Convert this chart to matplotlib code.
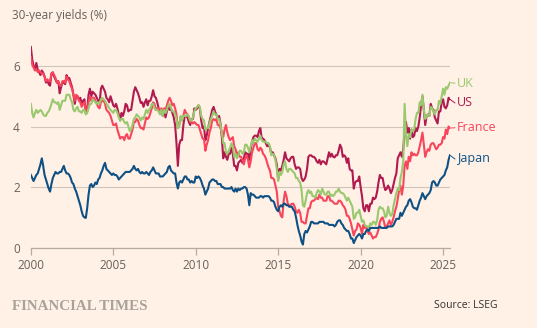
import numpy as np
import matplotlib.pyplot as plt

# monthly 30-year yields (%), Jan 2000 - Jun 2025
us = [
    6.63, 6.22, 6.00, 5.90, 6.10, 5.88, 5.80, 5.70, 5.85, 5.78, 5.65, 5.45,
    5.55, 5.40, 5.35, 5.75, 5.75, 5.65, 5.55, 5.45, 5.50, 5.10, 5.30, 5.45,
    5.45, 5.40, 5.70, 5.60, 5.60, 5.45, 5.30, 5.05, 4.75, 5.00, 5.00, 4.90,
    4.95, 4.75, 4.85, 4.90, 4.45, 4.55, 5.05, 5.25, 5.00, 5.15, 5.10, 5.05,
    4.95, 4.85, 4.75, 5.25, 5.35, 5.25, 5.15, 4.95, 4.90, 4.80, 5.00, 4.85,
    4.70, 4.65, 4.75, 4.60, 4.40, 4.20, 4.45, 4.35, 4.50, 4.75, 4.70, 4.50,
    4.55, 4.55, 4.85, 5.15, 5.30, 5.20, 5.10, 4.95, 4.78, 4.80, 4.65, 4.80,
    4.90, 4.70, 4.85, 4.85, 5.00, 5.20, 5.00, 4.95, 4.80, 4.60, 4.45, 4.55,
    4.35, 4.55, 4.30, 4.50, 4.70, 4.55, 4.60, 4.45, 4.30, 4.05, 3.45, 2.70,
    3.40, 3.55, 3.55, 4.05, 4.35, 4.35, 4.30, 4.15, 4.05, 4.25, 4.25, 4.60,
    4.55, 4.60, 4.70, 4.60, 4.20, 3.95, 4.00, 3.55, 3.70, 3.95, 4.15, 4.35,
    4.55, 4.65, 4.50, 4.40, 4.25, 4.35, 4.10, 3.65, 2.95, 3.15, 3.00, 2.90,
    3.10, 3.10, 3.30, 3.10, 2.70, 2.70, 2.55, 2.80, 2.85, 2.90, 2.80, 2.95,
    3.15, 3.10, 3.10, 2.90, 3.25, 3.50, 3.65, 3.70, 3.70, 3.65, 3.85, 3.95,
    3.60, 3.60, 3.55, 3.45, 3.35, 3.40, 3.30, 3.10, 3.15, 3.05, 2.95, 2.75,
    2.25, 2.60, 2.55, 2.70, 2.90, 3.15, 2.95, 2.90, 2.85, 2.95, 3.00, 3.00,
    2.75, 2.60, 2.65, 2.65, 2.60, 2.30, 2.20, 2.25, 2.35, 2.60, 3.00, 3.05,
    3.05, 3.00, 3.00, 2.95, 2.85, 2.80, 2.90, 2.75, 2.85, 2.85, 2.80, 2.75,
    2.95, 3.15, 3.00, 3.10, 3.00, 2.98, 3.05, 3.05, 3.20, 3.40, 3.30, 3.00,
    3.05, 3.00, 2.80, 2.95, 2.60, 2.55, 2.55, 1.95, 2.15, 2.20, 2.20, 2.35,
    2.00, 1.70, 1.30, 1.20, 1.40, 1.40, 1.20, 1.45, 1.45, 1.65, 1.60, 1.65,
    1.85, 2.15, 2.40, 2.30, 2.30, 2.05, 1.90, 1.95, 2.05, 1.95, 1.80, 1.90,
    2.10, 2.30, 2.45, 2.95, 3.05, 3.15, 3.00, 3.25, 3.80, 4.15, 3.80, 3.95,
    3.60, 3.90, 3.65, 3.70, 3.95, 3.85, 4.00, 4.30, 4.70, 5.00, 4.55, 4.05,
    4.35, 4.40, 4.35, 4.75, 4.60, 4.55, 4.30, 4.20, 4.10, 4.50, 4.50, 4.80,
    4.90, 4.65, 4.60, 4.70, 4.95, 4.90,
]
uk = [
    4.75, 4.45, 4.30, 4.45, 4.55, 4.45, 4.50, 4.55, 4.50, 4.40, 4.35, 4.35,
    4.45, 4.50, 4.60, 4.75, 4.90, 4.80, 4.80, 4.75, 4.80, 4.55, 4.70, 4.85,
    4.85, 4.85, 5.05, 5.05, 5.05, 4.90, 4.80, 4.55, 4.50, 4.60, 4.65, 4.50,
    4.50, 4.45, 4.55, 4.55, 4.40, 4.45, 4.60, 4.75, 4.75, 4.90, 4.85, 4.80,
    4.75, 4.80, 4.75, 4.90, 4.95, 4.90, 4.85, 4.75, 4.70, 4.60, 4.55, 4.50,
    4.45, 4.55, 4.55, 4.45, 4.30, 4.20, 4.25, 4.25, 4.15, 4.10, 4.15, 4.00,
    3.85, 3.90, 4.05, 4.25, 4.30, 4.40, 4.35, 4.30, 4.20, 4.30, 4.25, 4.40,
    4.55, 4.45, 4.55, 4.60, 4.75, 4.75, 4.60, 4.55, 4.55, 4.50, 4.40, 4.55,
    4.35, 4.55, 4.45, 4.55, 4.70, 4.75, 4.60, 4.50, 4.50, 4.40, 4.25, 3.95,
    4.00, 4.35, 4.20, 4.35, 4.35, 4.35, 4.40, 4.35, 4.20, 4.20, 4.30, 4.50,
    4.60, 4.65, 4.70, 4.65, 4.35, 4.25, 4.20, 3.90, 3.95, 3.95, 4.10, 4.25,
    4.35, 4.50, 4.40, 4.40, 4.25, 4.25, 4.05, 3.80, 3.45, 3.45, 3.15, 3.10,
    3.20, 3.30, 3.45, 3.35, 3.00, 3.10, 2.95, 3.05, 3.20, 3.20, 3.10, 3.15,
    3.40, 3.40, 3.30, 3.15, 3.35, 3.55, 3.45, 3.60, 3.55, 3.50, 3.60, 3.70,
    3.55, 3.50, 3.50, 3.50, 3.45, 3.45, 3.35, 3.05, 3.10, 3.05, 2.90, 2.60,
    2.20, 2.50, 2.40, 2.50, 2.75, 2.85, 2.60, 2.50, 2.60, 2.60, 2.55, 2.50,
    2.45, 2.30, 2.30, 2.20, 2.15, 1.90, 1.40, 1.35, 1.55, 1.80, 1.90, 1.80,
    1.85, 1.70, 1.70, 1.65, 1.80, 1.90, 1.85, 1.75, 1.95, 1.85, 1.75, 1.75,
    1.85, 1.85, 1.70, 1.75, 1.70, 1.75, 1.85, 1.85, 1.95, 1.85, 1.80, 1.80,
    1.75, 1.65, 1.55, 1.65, 1.55, 1.45, 1.35, 0.95, 1.00, 1.15, 1.15, 1.25,
    1.05, 0.85, 0.90, 0.75, 0.70, 0.70, 0.65, 0.80, 0.75, 0.85, 0.85, 0.75,
    0.90, 1.25, 1.35, 1.30, 1.30, 1.20, 1.00, 1.05, 1.35, 1.15, 1.05, 1.10,
    1.40, 1.60, 1.80, 1.95, 1.90, 2.30, 2.50, 2.85, 4.75, 3.70, 3.35, 3.75,
    3.65, 3.90, 3.85, 3.90, 4.25, 4.45, 4.45, 4.80, 4.70, 5.05, 4.55, 4.25,
    4.35, 4.40, 4.35, 4.65, 4.60, 4.50, 4.40, 4.55, 4.55, 4.85, 4.75, 5.00,
    5.25, 5.05, 5.30, 5.25, 5.35, 5.45,
]
france = [
    6.30, 6.05, 5.95, 5.85, 5.90, 5.80, 5.85, 5.80, 5.75, 5.75, 5.65, 5.50,
    5.55, 5.50, 5.50, 5.75, 5.80, 5.70, 5.60, 5.45, 5.50, 5.35, 5.35, 5.50,
    5.50, 5.45, 5.65, 5.55, 5.50, 5.35, 5.25, 5.05, 4.85, 5.05, 5.00, 4.85,
    4.80, 4.65, 4.75, 4.80, 4.45, 4.50, 4.80, 5.00, 4.85, 4.95, 4.95, 4.85,
    4.75, 4.65, 4.60, 4.80, 4.85, 4.85, 4.75, 4.55, 4.50, 4.45, 4.35, 4.20,
    4.05, 4.05, 4.10, 3.90, 3.75, 3.60, 3.65, 3.65, 3.55, 3.70, 3.75, 3.60,
    3.60, 3.75, 3.90, 4.15, 4.15, 4.25, 4.20, 4.05, 3.95, 3.95, 3.90, 4.10,
    4.30, 4.25, 4.30, 4.45, 4.60, 4.80, 4.75, 4.55, 4.60, 4.60, 4.50, 4.60,
    4.50, 4.60, 4.55, 4.70, 4.85, 4.95, 4.85, 4.70, 4.75, 4.60, 4.40, 3.95,
    4.05, 4.30, 4.20, 4.35, 4.55, 4.45, 4.40, 4.30, 4.15, 4.15, 4.10, 4.15,
    4.10, 4.05, 4.05, 3.90, 3.75, 3.60, 3.60, 3.20, 3.40, 3.55, 3.80, 3.95,
    4.20, 4.25, 4.20, 4.25, 4.05, 4.05, 3.95, 3.80, 3.65, 3.90, 4.05, 3.80,
    3.65, 3.55, 3.60, 3.65, 3.35, 3.25, 3.05, 3.15, 3.00, 3.00, 2.90, 2.75,
    2.95, 3.05, 2.90, 2.65, 2.85, 3.15, 3.30, 3.45, 3.45, 3.25, 3.20, 3.30,
    3.25, 3.10, 3.05, 2.95, 2.80, 2.65, 2.55, 2.30, 2.30, 2.25, 2.05, 1.85,
    1.35, 1.20, 1.05, 1.00, 1.55, 1.85, 1.70, 1.45, 1.40, 1.40, 1.45, 1.45,
    1.35, 1.20, 1.15, 1.25, 1.15, 0.85, 0.85, 0.80, 0.80, 1.05, 1.30, 1.30,
    1.50, 1.55, 1.55, 1.60, 1.65, 1.60, 1.75, 1.65, 1.65, 1.55, 1.55, 1.55,
    1.70, 1.70, 1.55, 1.55, 1.50, 1.45, 1.45, 1.45, 1.55, 1.55, 1.50, 1.40,
    1.35, 1.25, 1.05, 1.05, 0.95, 0.80, 0.60, 0.40, 0.55, 0.60, 0.80, 0.75,
    0.65, 0.45, 0.75, 0.65, 0.70, 0.55, 0.45, 0.50, 0.40, 0.30, 0.35, 0.35,
    0.45, 0.60, 0.85, 0.95, 1.00, 0.85, 0.65, 0.70, 0.80, 0.90, 0.75, 0.85,
    1.00, 1.20, 1.35, 1.60, 1.90, 2.05, 1.75, 2.05, 2.70, 2.85, 2.60, 3.00,
    2.85, 3.15, 3.05, 3.10, 3.05, 3.05, 3.15, 3.35, 3.55, 3.80, 3.40, 3.00,
    3.15, 3.25, 3.20, 3.40, 3.45, 3.45, 3.35, 3.25, 3.30, 3.40, 3.40, 3.45,
    3.65, 3.60, 3.90, 3.75, 4.00, 3.95,
]
japan = [
    2.40, 2.30, 2.20, 2.30, 2.40, 2.45, 2.60, 2.75, 2.95, 2.70, 2.40, 2.25,
    2.10, 1.95, 1.85, 2.10, 2.30, 2.40, 2.50, 2.45, 2.45, 2.50, 2.50, 2.60,
    2.70, 2.55, 2.45, 2.45, 2.40, 2.30, 2.15, 2.10, 1.95, 1.85, 1.70, 1.55,
    1.40, 1.20, 1.05, 1.00, 0.98, 1.30, 1.75, 2.05, 2.10, 2.00, 2.05, 2.15,
    2.10, 2.25, 2.30, 2.45, 2.55, 2.70, 2.80, 2.60, 2.55, 2.50, 2.45, 2.40,
    2.45, 2.40, 2.40, 2.35, 2.25, 2.30, 2.35, 2.40, 2.45, 2.50, 2.50, 2.50,
    2.50, 2.55, 2.60, 2.70, 2.60, 2.55, 2.60, 2.50, 2.45, 2.50, 2.45, 2.45,
    2.50, 2.45, 2.40, 2.50, 2.55, 2.65, 2.55, 2.45, 2.45, 2.45, 2.35, 2.35,
    2.35, 2.40, 2.45, 2.50, 2.65, 2.70, 2.55, 2.50, 2.45, 2.45, 2.15, 1.95,
    2.15, 2.20, 2.15, 2.25, 2.35, 2.35, 2.25, 2.25, 2.15, 2.20, 2.15, 2.15,
    2.35, 2.30, 2.35, 2.30, 2.20, 2.05, 1.95, 1.75, 1.85, 1.95, 2.15, 2.20,
    2.25, 2.25, 2.20, 2.20, 2.10, 2.10, 2.10, 2.00, 2.00, 1.95, 1.95, 1.95,
    1.95, 1.95, 2.00, 1.90, 1.85, 1.95, 1.85, 1.95, 1.90, 1.95, 1.95, 2.00,
    2.00, 1.95, 1.75, 1.40, 1.80, 1.75, 1.75, 1.70, 1.65, 1.65, 1.65, 1.70,
    1.70, 1.65, 1.70, 1.70, 1.70, 1.70, 1.65, 1.55, 1.55, 1.50, 1.35, 1.25,
    1.20, 1.35, 1.40, 1.35, 1.45, 1.45, 1.40, 1.40, 1.35, 1.35, 1.35, 1.25,
    1.20, 1.00, 0.75, 0.55, 0.40, 0.20, 0.10, 0.45, 0.55, 0.50, 0.60, 0.70,
    0.85, 0.85, 0.80, 0.80, 0.80, 0.80, 0.85, 0.85, 0.85, 0.85, 0.80, 0.80,
    0.80, 0.75, 0.75, 0.75, 0.75, 0.70, 0.75, 0.85, 0.90, 0.90, 0.80, 0.75,
    0.65, 0.60, 0.55, 0.55, 0.45, 0.30, 0.30, 0.15, 0.25, 0.35, 0.40, 0.45,
    0.40, 0.30, 0.45, 0.45, 0.55, 0.60, 0.55, 0.65, 0.65, 0.65, 0.65, 0.65,
    0.65, 0.65, 0.70, 0.65, 0.65, 0.65, 0.65, 0.65, 0.70, 0.70, 0.70, 0.70,
    0.75, 0.85, 0.95, 0.95, 0.95, 1.15, 1.05, 1.15, 1.25, 1.35, 1.40, 1.55,
    1.60, 1.50, 1.35, 1.30, 1.30, 1.25, 1.40, 1.55, 1.65, 1.80, 1.70, 1.60,
    1.70, 1.75, 1.80, 1.90, 2.15, 2.20, 2.15, 2.05, 2.05, 2.15, 2.25, 2.30,
    2.35, 2.40, 2.55, 2.65, 2.90, 3.05,
]
names = ["US", "France", "UK", "Japan"]
colors = ["#B01A4F", "#F8455C", "#9AC86E", "#0F5084"]
label_y = [4.78, 3.96, 5.43, 2.93]
year_ticks = [2000, 2005, 2010, 2015, 2020, 2025]

bg = "#FFF1E5"
plt.rcParams["font.family"] = ["Open Sans", "DejaVu Sans"]

fig = plt.figure(figsize=(5.37, 3.28), dpi=100, facecolor=bg)
ax = fig.add_axes([0.0574, 0.2451, 0.7806, 0.646], facecolor=bg)

dates = 2000 + np.arange(len(us)) / 12
series = [us, france, uk, japan]
for vals, c in zip(series, colors):
    ax.plot(dates, vals, color=c, lw=1.5, solid_joinstyle="round", zorder=3)

for name, vals, c, ly in zip(names, series, colors, label_y):
    ax.plot([dates[-1], dates[-1] + 0.3], [vals[-1], ly], color=c, lw=0.7,
            clip_on=False, zorder=3)
    ax.text(2025.85, ly, name, color=c, fontsize=9, fontweight="medium",
            ha="left", va="center", clip_on=False)

ax.set_xlim(2000, 2025.42)
ax.set_ylim(0, 7)
ax.set_yticks([0, 2, 4, 6])
ax.set_xticks(year_ticks)
ax.grid(axis="y", color="#CFC5BB", lw=0.8)
ax.set_axisbelow(True)
for s in ["top", "right", "left"]:
    ax.spines[s].set_visible(False)
ax.spines["bottom"].set_color("#B5ABA2")
ax.spines["bottom"].set_linewidth(0.9)
ax.tick_params(axis="y", length=0, pad=8, labelsize=8.5, labelcolor="#66605C")
ax.tick_params(axis="x", length=5, width=0.9, color="#B5ABA2", pad=3,
               labelsize=8.5, labelcolor="#66605C")

fig.text(12.5 / 537, 1 - 16 / 328, "30-year yields (%)", fontsize=8.5,
         color="#66605C", ha="left", va="center")
fig.text(12 / 537, 1 - 306 / 328, "FINANCIAL TIMES", fontsize=10.8,
         family="Liberation Serif", fontweight="bold", color="#A9A29B",
         ha="left", va="center")
fig.text(497 / 537, 1 - 306 / 328, "Source: LSEG", fontsize=7.5,
         color="#33302E", ha="right", va="center")

fig.savefig("out.png", dpi=100, facecolor=bg)
